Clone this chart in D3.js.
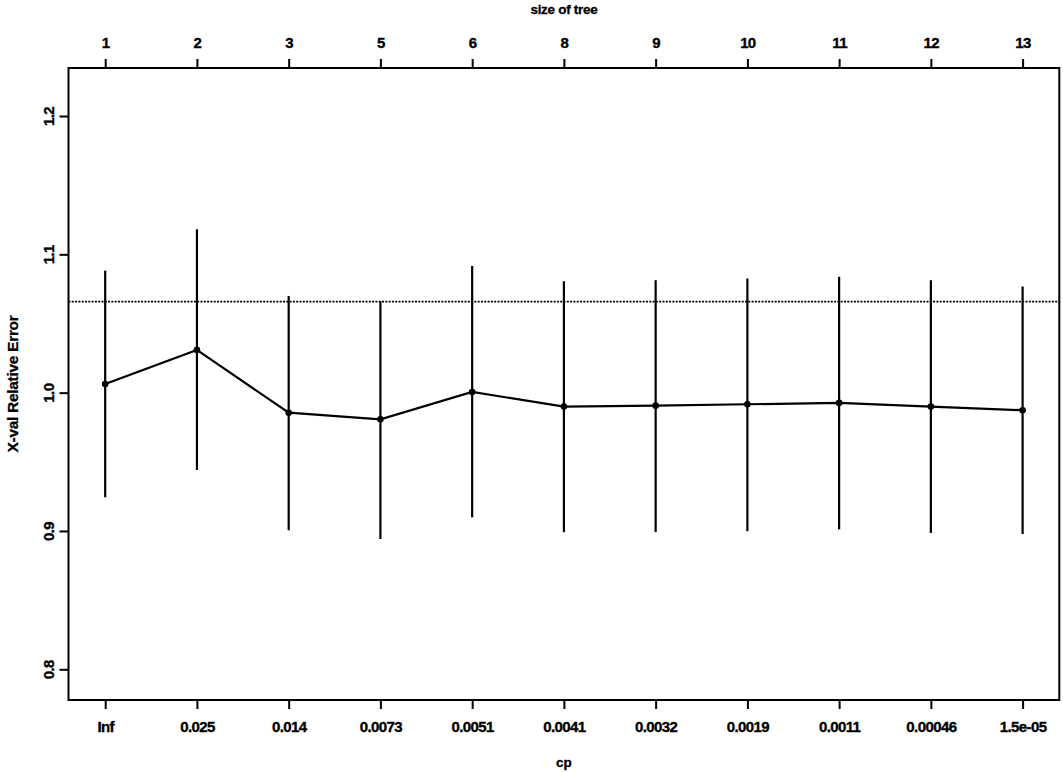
<!DOCTYPE html>
<html><head><meta charset="utf-8">
<script src="https://cdn.jsdelivr.net/npm/d3@7"></script>
<style>
html,body{margin:0;padding:0;background:#fff;}
text{font-family:"Liberation Sans",Arial,Helvetica,sans-serif;font-weight:bold;fill:#000;}
</style></head>
<body>
<svg id="chart" width="1063" height="772"></svg>
<script>
const cpLabels = ["Inf","0.025","0.014","0.0073","0.0051","0.0041","0.0032","0.0019","0.0011","0.00046","1.5e-05"];
const treeSizes = ["1","2","3","5","6","8","9","10","11","12","13"];
const xerror = [1.0063,1.0309,0.9855,0.9807,1.0005,0.9899,0.9906,0.9916,0.9926,0.9899,0.9873];
const upper  = [1.0882,1.1181,1.0699,1.0660,1.0916,1.0805,1.0813,1.0825,1.0837,1.0813,1.0767];
const lower  = [0.9244,0.9441,0.9005,0.8942,0.9099,0.8991,0.8993,0.8998,0.9012,0.8986,0.8978];
const yTicks = [0.8,0.9,1.0,1.1,1.2];
const threshold = 1.0658;

(function(){
const svg = d3.select("#chart");
const L = 68.5, R = 1059.3, T = 68, B = 700;
const idx = d3.range(1, cpLabels.length + 1);
const x = d3.scaleLinear().domain([0.6, 11.4]).range([L, R]);
const y = d3.scaleLinear().domain([0.7778, 1.2347]).range([B, T]);

svg.append("rect").attr("x", L).attr("y", T).attr("width", R - L).attr("height", B - T)
  .attr("fill", "none").attr("stroke", "#000").attr("stroke-width", 2);

const gBottom = svg.append("g").attr("transform", `translate(0,${B})`)
  .call(d3.axisBottom(x).tickValues(idx).tickFormat((d,i) => cpLabels[i]).tickSize(9).tickPadding(12).tickSizeOuter(0));
const gTop = svg.append("g").attr("transform", `translate(0,${T})`)
  .call(d3.axisTop(x).tickValues(idx).tickFormat((d,i) => treeSizes[i]).tickSize(9).tickPadding(11).tickSizeOuter(0));
const gLeft = svg.append("g").attr("transform", `translate(${L},0)`)
  .call(d3.axisLeft(y).tickValues(yTicks).tickFormat(d3.format(".1f")).tickSize(9).tickSizeOuter(0));

[gBottom, gTop, gLeft].forEach(g => {
  g.select(".domain").remove();
  g.selectAll(".tick line").attr("stroke", "#000").attr("stroke-width", 2);
  g.selectAll(".tick text").style("font-size", "15px").style("font-family", '"Liberation Sans",Arial,sans-serif')
    .style("font-weight", "bold").style("letter-spacing", "-0.6px").attr("fill", "#000")
    .attr("stroke", "#000").attr("stroke-width", 0.35);
});
gLeft.selectAll(".tick text")
  .attr("x", null)
  .attr("text-anchor", "middle")
  .attr("transform", "translate(-20,0) rotate(-90)")
  .attr("dy", "0.35em");

svg.append("text").attr("x", (L + R) / 2).attr("y", 14).attr("text-anchor", "middle")
  .style("font-size", "13.5px").style("letter-spacing", "-0.3px")
  .attr("stroke", "#000").attr("stroke-width", 0.3).text("size of tree");
svg.append("text").attr("x", (L + R) / 2).attr("y", 767).attr("text-anchor", "middle")
  .style("font-size", "13.5px").attr("stroke", "#000").attr("stroke-width", 0.3).text("cp");
svg.append("text").attr("transform", `translate(18,${(T + B) / 2}) rotate(-90)`).attr("text-anchor", "middle")
  .style("font-size", "15.5px").style("letter-spacing", "-0.3px")
  .attr("stroke", "#000").attr("stroke-width", 0.3).text("X-val Relative Error");

svg.append("line").attr("x1", L).attr("x2", R).attr("y1", y(threshold)).attr("y2", y(threshold))
  .attr("stroke", "#000").attr("stroke-width", 1.8).attr("stroke-dasharray", "2,1.3");

svg.append("g").selectAll("line").data(idx).join("line")
  .attr("x1", d => x(d)).attr("x2", d => x(d))
  .attr("y1", (d,i) => y(upper[i])).attr("y2", (d,i) => y(lower[i]))
  .attr("stroke", "#000").attr("stroke-width", 2.2);

svg.append("path").datum(idx)
  .attr("d", d3.line().x(d => x(d)).y((d,i) => y(xerror[i])))
  .attr("fill", "none").attr("stroke", "#000").attr("stroke-width", 2.2);

svg.append("g").selectAll("circle").data(idx).join("circle")
  .attr("cx", d => x(d)).attr("cy", (d,i) => y(xerror[i])).attr("r", 3.3)
  .attr("fill", "#000");
})();
</script>
</body></html>
